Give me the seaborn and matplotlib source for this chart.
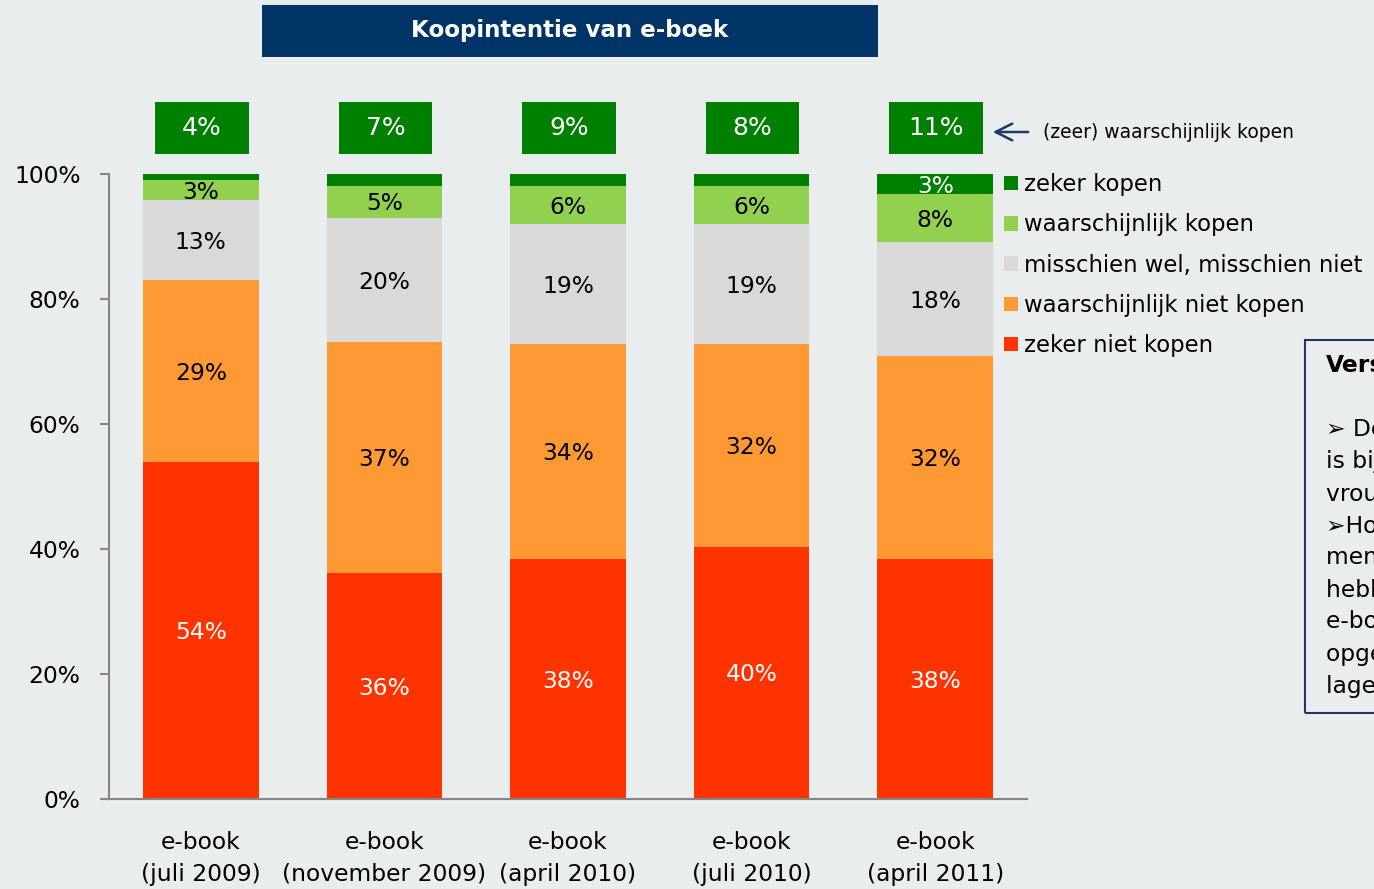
import numpy as np
import pandas as pd
import matplotlib
matplotlib.use("Agg")
import matplotlib.pyplot as plt
import seaborn as sns
from matplotlib.patches import Rectangle, Patch

# ---------------- data ----------------
categories = ["e-book\n(juli 2009)", "e-book\n(november 2009)", "e-book\n(april 2010)",
              "e-book\n(juli 2010)", "e-book\n(april 2011)"]
series_names = ["zeker niet kopen", "waarschijnlijk niet kopen", "misschien wel, misschien niet",
                "waarschijnlijk kopen", "zeker kopen"]
zeker_niet = [53.9, 36.2, 38.4, 40.4, 38.4]
waarsch_niet = [29.1, 36.9, 34.4, 32.4, 32.5]
misschien = [12.8, 19.9, 19.2, 19.2, 18.2]
waarsch_kopen = [3.2, 5.1, 6.1, 6.1, 7.7]
zeker_kopen = [1.0, 1.9, 1.9, 1.9, 3.2]
top_labels = ["4%", "7%", "9%", "8%", "11%"]
ytick_values = [0, 20, 40, 60, 80, 100]
ytick_labels = ["0%", "20%", "40%", "60%", "80%", "100%"]
title = "Koopintentie van e-boek"
note = "(zeer) waarschijnlijk kopen"
side_title = "Verschillen"
side_lines = ["\u27a2 De koopintentie", "is bij mannen en", "vrouwen gelijk.",
              "\u27a2Hoger opgeleiden en", "mensen die al eens", "hebben gehoord van",
              "e-boeken hebben een", "opgegeven intentie dan", "lager opgeleiden."]

colors = ["#FF3300", "#FF9933", "#D9D9D9", "#92D050", "#008000"]
text_colors = ["white", "black", "black", "black", "white"]
BG = "#E9EDEE"
NAVY = "#003366"

df = pd.DataFrame({"periode": categories,
                   series_names[0]: zeker_niet,
                   series_names[1]: waarsch_niet,
                   series_names[2]: misschien,
                   series_names[3]: waarsch_kopen,
                   series_names[4]: zeker_kopen})
cum = df[series_names].cumsum(axis=1)

# ---------------- figure ----------------
sns.set_theme(style="white")
plt.rcParams["font.family"] = ["DejaVu Sans"]
plt.rcParams["text.color"] = "black"
W, H = 1374, 889
fig = plt.figure(figsize=(W / 100, H / 100), dpi=100, facecolor=BG)
ax = fig.add_axes([109 / W, (H - 799) / H, (1027 - 109) / W, 625 / H])
ax.set_facecolor(BG)

FS = 16.8
# stacked bars drawn as overlapping cumulative bars (top segment first)
for k in range(len(series_names) - 1, -1, -1):
    sns.barplot(x=df["periode"], y=cum[series_names[k]], color=colors[k], width=0.63,
                saturation=1, errorbar=None, linewidth=0, edgecolor="none", ax=ax,
                zorder=2)

# segment labels
for k, name in enumerate(series_names):
    for i in range(len(categories)):
        v = df[name].iloc[i]
        if v < 2.5:
            continue
        yc = cum[name].iloc[i] - v / 2 - 0.35
        ax.text(i, yc, f"{v:.0f}%", ha="center", va="center", fontsize=FS,
                color=text_colors[k], zorder=5)

# top boxes with (zeer) waarschijnlijk kopen totals
for i, lab in enumerate(top_labels):
    ax.add_patch(Rectangle((i + 0.005 - 0.255, 103.2), 0.51, 8.3, facecolor="#008000",
                           edgecolor="none", clip_on=False, zorder=3))
    ax.text(i + 0.005, 107.3, lab, ha="center", va="center", fontsize=18,
            color="white", zorder=4, clip_on=False)

ax.set_ylim(0, 100)
ax.set_xlim(-0.5, 4.5)
ax.set_yticks(ytick_values)
ax.set_yticklabels(ytick_labels)
ax.set_xlabel("")
ax.set_ylabel("")
for s in ["top", "right"]:
    ax.spines[s].set_visible(False)
for s in ["left", "bottom"]:
    ax.spines[s].set_color("#868686")
    ax.spines[s].set_linewidth(1.5)
ax.tick_params(axis="y", direction="out", length=6.5, width=1.5, color="#868686",
               pad=14, labelsize=FS, labelcolor="black", left=True)
ax.tick_params(axis="x", length=0, pad=23, labelsize=FS, labelcolor="black")
for t in ax.get_xticklabels():
    t.set_linespacing(1.5)

# title box
fig.patches.append(Rectangle((262 / W, 1 - 57 / H), 616 / W, 52 / H, transform=fig.transFigure,
                             facecolor=NAVY, edgecolor="none"))
fig.text(570 / W, 1 - 31 / H, title, ha="center", va="center", color="white",
         fontsize=16.6, fontweight="bold")

# legend
handles = [Patch(facecolor=colors[k], edgecolor="none") for k in range(4, -1, -1)]
labels = [series_names[k] for k in range(4, -1, -1)]
leg = fig.legend(handles, labels, loc="upper left", bbox_to_anchor=(1004 / W, 1 - 173 / H),
                 bbox_transform=fig.transFigure, frameon=False, fontsize=16.4,
                 handlelength=0.6, handleheight=0.6, handletextpad=0.3, labelspacing=0.76,
                 borderpad=0, borderaxespad=0)
for t in leg.get_texts():
    t.set_color("black")

# arrow + note
ax.annotate("", xy=(990, H - 132), xytext=(1031, H - 132), xycoords="figure pixels",
            textcoords="figure pixels",
            arrowprops=dict(arrowstyle="->", color="#1F3864", lw=1.8, mutation_scale=30))
fig.text(1043 / W, 1 - 132 / H, note, ha="left", va="center", fontsize=13.5, color="black")

# side box (cut off at right edge, as in the source)
fig.patches.append(Rectangle((1305 / W, 1 - 713 / H), 200 / W, 373 / H,
                             transform=fig.transFigure, facecolor="none",
                             edgecolor="#1F3864", lw=1.5))
fig.text(1326 / W, 1 - 366 / H, side_title, ha="left", va="center", fontsize=FS,
         fontweight="bold", color="black")
for j, line in enumerate(side_lines):
    fig.text(1326 / W, 1 - (430 + 32 * j) / H, line, ha="left", va="center",
             fontsize=FS, color="black")

fig.savefig("out.png", dpi=100, facecolor=BG)
